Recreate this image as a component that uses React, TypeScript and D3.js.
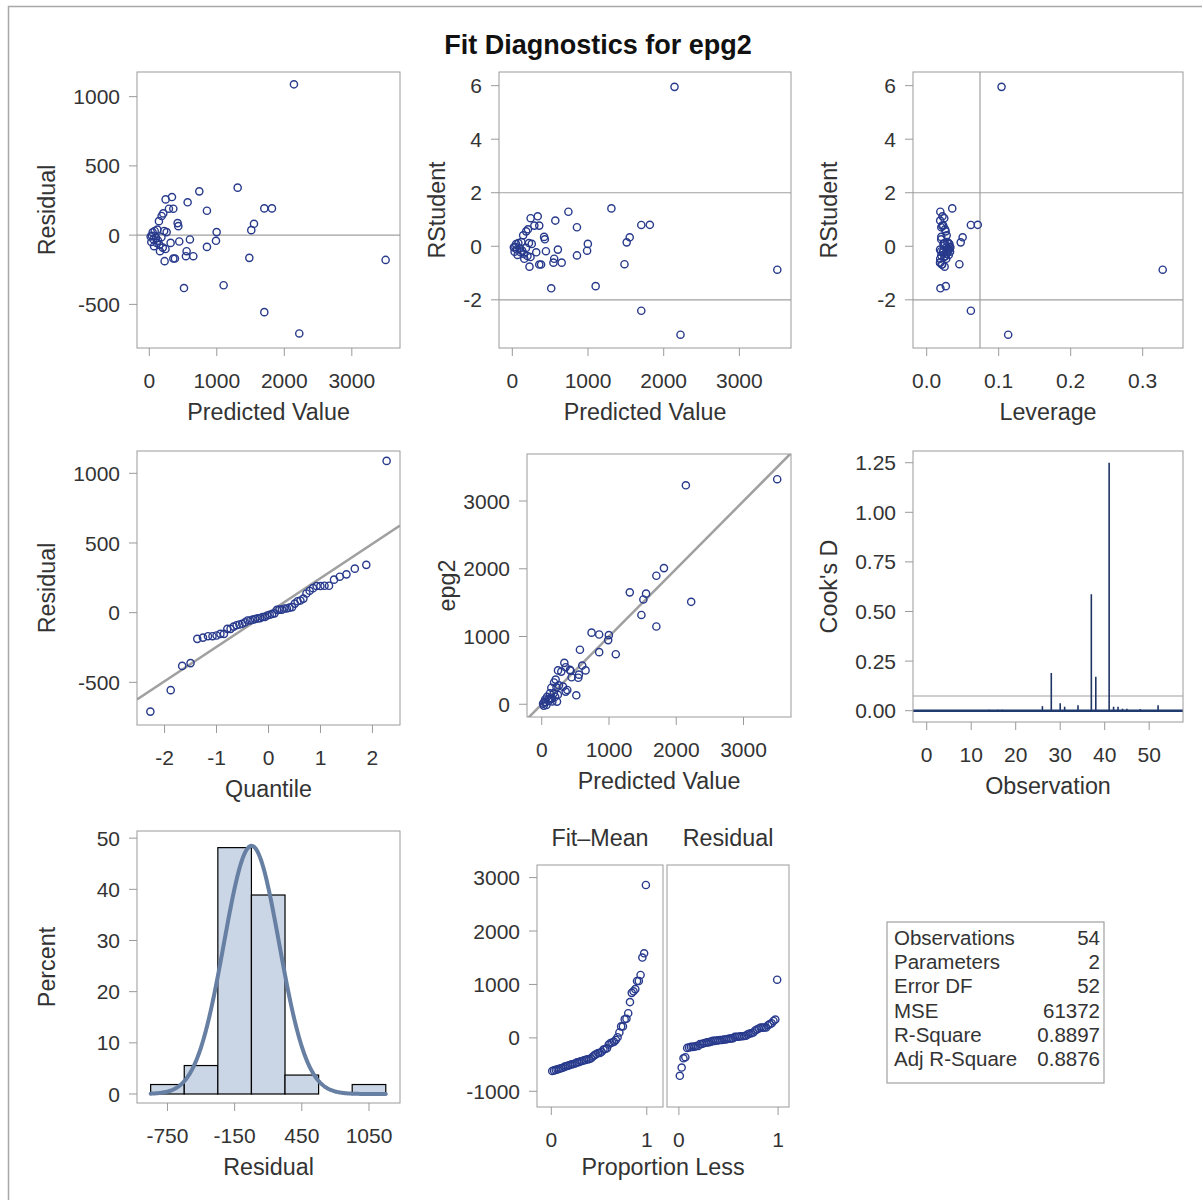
import React from "react";
import * as d3 from "d3";

// ---------- data ----------
const predicted = [2143,1309,741,3501,1704,1817,1551,1511,1482,1101,514,1704,2222,998,988,854,854,568,336,242,356,291,207,420,430,602,444,553,543,652,380,356,227,158,109,143,183,257,316,20,40,60,80,30,100,120,150,180,200,70,220,50,130,240];
const residual = [1089,343,316,-179,193,193,82,36,-164,-362,-382,-556,-710,22,-41,176,-85,237,275,258,191,191,157,87,65,-31,-46,-116,-152,-152,-169,-169,-188,-116,-56,101,138,22,-56,-10,-5,-30,30,-50,-20,40,-70,-15,-90,-80,30,20,-40,-100];
const cooksD = [0.001,0.001,0.001,0.001,0.001,0.001,0.001,0.001,0.001,0.001,0.001,0.001,0.001,0.005,0.001,0.005,0.005,0.001,0.001,0.001,0.001,0.001,0.001,0.001,0.001,0.023,0.002,0.19,0.003,0.037,0.02,0.002,0.003,0.028,0.002,0.002,0.587,0.171,0.003,0.002,1.25,0.02,0.02,0.01,0.01,0.003,0.002,0.008,0.002,0.001,0.002,0.027,0.002,0.001];
const histMid = [-750,-450,-150,150,450,750,1050];
const histPct = [1.85,5.56,48.15,38.89,3.7,0,1.85];
const statLabels = ["Observations","Parameters","Error DF","MSE","R-Square","Adj R-Square"];
const statValues = ["54","2","52","61372","0.8897","0.8876"];
const nParams = 2;

// ---------- derived diagnostics ----------
const n = predicted.length;
const meanF = d3.mean(predicted) as number;
const ssF = d3.sum(predicted, (f) => (f - meanF) ** 2);
const sse = d3.sum(residual, (r) => r * r);
const leverage = predicted.map((f) => 1 / n + (f - meanF) ** 2 / ssF);
const rstudent = residual.map((r, i) => {
  const h = leverage[i];
  const s2 = (sse - (r * r) / (1 - h)) / (n - nParams - 1);
  return r / (Math.sqrt(s2) * Math.sqrt(1 - h));
});
const observed = predicted.map((f, i) => f + residual[i]);
const meanObs = d3.mean(observed) as number;
const meanR = d3.mean(residual) as number;
const sdR = d3.deviation(residual) as number;

function invNorm(p: number): number {
  const a = [-39.69683028665376, 220.9460984245205, -275.9285104469687, 138.357751867269, -30.66479806614716, 2.506628277459239];
  const b = [-54.47609879822406, 161.5858368580409, -155.6989798598866, 66.80131188771972, -13.28068155288572];
  const c = [-0.007784894002430293, -0.3223964580411365, -2.400758277161838, -2.549732539343734, 4.374664141464968, 2.938163982698783];
  const dd = [0.007784695709041462, 0.3224671290700398, 2.445134137142996, 3.754408661907416];
  const pl = 0.02425;
  let q, r;
  if (p < pl) {
    q = Math.sqrt(-2 * Math.log(p));
    return (((((c[0] * q + c[1]) * q + c[2]) * q + c[3]) * q + c[4]) * q + c[5]) / ((((dd[0] * q + dd[1]) * q + dd[2]) * q + dd[3]) * q + 1);
  }
  if (p > 1 - pl) {
    q = Math.sqrt(-2 * Math.log(1 - p));
    return -(((((c[0] * q + c[1]) * q + c[2]) * q + c[3]) * q + c[4]) * q + c[5]) / ((((dd[0] * q + dd[1]) * q + dd[2]) * q + dd[3]) * q + 1);
  }
  q = p - 0.5;
  r = q * q;
  return ((((((a[0] * r + a[1]) * r + a[2]) * r + a[3]) * r + a[4]) * r + a[5]) * q) / (((((b[0] * r + b[1]) * r + b[2]) * r + b[3]) * r + b[4]) * r + 1);
}

const sortedR = [...residual].sort((a, b) => a - b);
const qq = sortedR.map((r, i) => ({ q: invNorm((i + 1 - 0.375) / (n + 0.25)), r }));
const fitMean = predicted.map((f) => f - meanObs).sort((a, b) => a - b);
const propLess = (i: number) => (i + 0.5) / n;

// ---------- style ----------
const FONT = "'Liberation Sans', Arial, Helvetica, sans-serif";
const TXT = "#333";
const FRAME = "#9a9a9a";
const MARK = "#283a8c";
const REF = "#a0a0a0";
const TICK_FS = 21;
const LAB_FS = 23.3;

type Box = { x0: number; x1: number; y0: number; y1: number };

function Frame({ b, xs, ys, xTicks, yTicks, xFmt, yFmt, xLabel, yLabel, yLabelX }: any) {
  const fx = xFmt || ((v: number) => String(v));
  const fy = yFmt || ((v: number) => String(v));
  return (
    <g fontFamily={FONT} fill={TXT}>
      <rect x={b.x0} y={b.y0} width={b.x1 - b.x0} height={b.y1 - b.y0} fill="none" stroke={FRAME} strokeWidth={1} />
      {xTicks &&
        xTicks.map((t: number) => (
          <g key={"x" + t}>
            <line x1={xs(t)} x2={xs(t)} y1={b.y1} y2={b.y1 + 8} stroke={FRAME} />
            <text x={xs(t)} y={b.y1 + 40} textAnchor="middle" fontSize={TICK_FS}>{fx(t)}</text>
          </g>
        ))}
      {yTicks &&
        yTicks.map((t: number) => (
          <g key={"y" + t}>
            <line x1={b.x0 - 8} x2={b.x0} y1={ys(t)} y2={ys(t)} stroke={FRAME} />
            <text x={b.x0 - 17} y={ys(t)} dy="0.36em" textAnchor="end" fontSize={TICK_FS}>{fy(t)}</text>
          </g>
        ))}
      {xLabel && (
        <text x={(b.x0 + b.x1) / 2} y={b.y1 + 72} textAnchor="middle" fontSize={LAB_FS}>{xLabel}</text>
      )}
      {yLabel && (
        <text transform={`translate(${yLabelX},${(b.y0 + b.y1) / 2}) rotate(-90)`} dy="0.36em" textAnchor="middle" fontSize={LAB_FS}>{yLabel}</text>
      )}
    </g>
  );
}

function scales(b: Box, xd: number[], yd: number[]) {
  return {
    xs: d3.scaleLinear().domain(xd).range([b.x0, b.x1]),
    ys: d3.scaleLinear().domain(yd).range([b.y1, b.y0]),
  };
}

function Circles({ pts, xs, ys }: any) {
  return (
    <g>
      {pts.map((p: number[], i: number) => (
        <circle key={i} cx={xs(p[0])} cy={ys(p[1])} r={3.6} fill="none" stroke={MARK} strokeWidth={1.4} />
      ))}
    </g>
  );
}

export default function App() {
  const b1: Box = { x0: 137, x1: 400, y0: 72, y1: 348 };
  const s1 = scales(b1, [-182, 3714], [-815, 1178]);
  const b2: Box = { x0: 499, x1: 791, y0: 72, y1: 348 };
  const s2 = scales(b2, [-176, 3682], [-3.8, 6.51]);
  const b3: Box = { x0: 913, x1: 1183, y0: 72, y1: 348 };
  const s3 = scales(b3, [-0.019, 0.356], [-3.8, 6.51]);
  const b4: Box = { x0: 137, x1: 400, y0: 451, y1: 725 };
  const s4 = scales(b4, [-2.53, 2.53], [-806, 1160]);
  const b5: Box = { x0: 527, x1: 791, y0: 454, y1: 717 };
  const s5 = scales(b5, [-219, 3706], [-188, 3694]);
  const b6: Box = { x0: 913, x1: 1183, y0: 451, y1: 722 };
  const s6 = scales(b6, [-3.08, 57.6], [-0.057, 1.309]);
  const b7: Box = { x0: 137, x1: 400, y0: 831, y1: 1103 };
  const s7 = scales(b7, [-1022, 1327], [-1.76, 51.4]);
  const b8a: Box = { x0: 537, x1: 663, y0: 865, y1: 1107 };
  const s8a = scales(b8a, [-0.15, 1.17], [-1294, 3236]);
  const b8b: Box = { x0: 667, x1: 789, y0: 865, y1: 1107 };
  const s8b = scales(b8b, [-0.12, 1.11], [-1294, 3236]);

  const levCut = (2 * nParams) / n;
  const cookCut = 4 / n;
  const binW = histMid[1] - histMid[0];
  const lo = histMid[0] - binW / 2;
  const hi = histMid[histMid.length - 1] + binW / 2;
  const curveX = d3.range(lo, hi + 1, 6);
  const curve = d3
    .line<number>()
    .x((v) => s7.xs(v))
    .y((v) => s7.ys((100 * binW * Math.exp(-0.5 * ((v - meanR) / sdR) ** 2)) / (sdR * Math.sqrt(2 * Math.PI))))(curveX);

  const qqLine = [-2.53, 2.53];

  return (
    <svg width={1202} height={1200} style={{ position: "absolute", left: 0, top: 0, background: "#fff" }}>
      <defs>
        {[b4, b5, b7].map((b, i) => (
          <clipPath id={"clip" + i} key={i}>
            <rect x={b.x0} y={b.y0} width={b.x1 - b.x0} height={b.y1 - b.y0} />
          </clipPath>
        ))}
      </defs>
      <rect x={0} y={0} width={1202} height={1200} fill="#fff" />
      <rect x={8.5} y={6.5} width={1300} height={1300} fill="none" stroke="#a8a8a8" strokeWidth={1.5} />
      <text x={598} y={54} textAnchor="middle" fontFamily={FONT} fontWeight="bold" fontSize={27} fill="#111">
        Fit Diagnostics for epg2
      </text>

      {/* Panel 1: Residual vs Predicted */}
      <line x1={b1.x0} x2={b1.x1} y1={s1.ys(0)} y2={s1.ys(0)} stroke={REF} strokeWidth={1.2} />
      <Circles pts={predicted.map((f, i) => [f, residual[i]])} xs={s1.xs} ys={s1.ys} />
      <Frame b={b1} xs={s1.xs} ys={s1.ys} xTicks={[0, 1000, 2000, 3000]} yTicks={[-500, 0, 500, 1000]} xLabel="Predicted Value" yLabel="Residual" yLabelX={47} />

      {/* Panel 2: RStudent vs Predicted */}
      {[-2, 2].map((v) => (
        <line key={v} x1={b2.x0} x2={b2.x1} y1={s2.ys(v)} y2={s2.ys(v)} stroke={REF} strokeWidth={1.2} />
      ))}
      <Circles pts={predicted.map((f, i) => [f, rstudent[i]])} xs={s2.xs} ys={s2.ys} />
      <Frame b={b2} xs={s2.xs} ys={s2.ys} xTicks={[0, 1000, 2000, 3000]} yTicks={[-2, 0, 2, 4, 6]} xLabel="Predicted Value" yLabel="RStudent" yLabelX={437} />

      {/* Panel 3: RStudent vs Leverage */}
      {[-2, 2].map((v) => (
        <line key={v} x1={b3.x0} x2={b3.x1} y1={s3.ys(v)} y2={s3.ys(v)} stroke={REF} strokeWidth={1.2} />
      ))}
      <line x1={s3.xs(levCut)} x2={s3.xs(levCut)} y1={b3.y0} y2={b3.y1} stroke={REF} strokeWidth={1.2} />
      <Circles pts={leverage.map((h, i) => [h, rstudent[i]])} xs={s3.xs} ys={s3.ys} />
      <Frame b={b3} xs={s3.xs} ys={s3.ys} xTicks={[0, 0.1, 0.2, 0.3]} xFmt={(v: number) => v.toFixed(1)} yTicks={[-2, 0, 2, 4, 6]} xLabel="Leverage" yLabel="RStudent" yLabelX={829} />

      {/* Panel 4: Q-Q */}
      <g clipPath="url(#clip0)">
        <line x1={s4.xs(qqLine[0])} x2={s4.xs(qqLine[1])} y1={s4.ys(meanR + sdR * qqLine[0])} y2={s4.ys(meanR + sdR * qqLine[1])} stroke={REF} strokeWidth={2.5} />
      </g>
      <Circles pts={qq.map((d) => [d.q, d.r])} xs={s4.xs} ys={s4.ys} />
      <Frame b={b4} xs={s4.xs} ys={s4.ys} xTicks={[-2, -1, 0, 1, 2]} yTicks={[-500, 0, 500, 1000]} xLabel="Quantile" yLabel="Residual" yLabelX={47} />

      {/* Panel 5: Observed vs Predicted */}
      <g clipPath="url(#clip1)">
        <line x1={s5.xs(-300)} x2={s5.xs(3800)} y1={s5.ys(-300)} y2={s5.ys(3800)} stroke={REF} strokeWidth={2.5} />
      </g>
      <Circles pts={predicted.map((f, i) => [f, observed[i]])} xs={s5.xs} ys={s5.ys} />
      <Frame b={b5} xs={s5.xs} ys={s5.ys} xTicks={[0, 1000, 2000, 3000]} yTicks={[0, 1000, 2000, 3000]} xLabel="Predicted Value" yLabel="epg2" yLabelX={447} />

      {/* Panel 6: Cook's D */}
      <line x1={b6.x0} x2={b6.x1} y1={s6.ys(cookCut)} y2={s6.ys(cookCut)} stroke={REF} strokeWidth={1.2} />
      {cooksD.map((v, i) => (
        <line key={i} x1={s6.xs(i + 1)} x2={s6.xs(i + 1)} y1={s6.ys(0)} y2={s6.ys(v)} stroke="#1f3563" strokeWidth={1.6} />
      ))}
      <line x1={b6.x0} x2={b6.x1} y1={s6.ys(0)} y2={s6.ys(0)} stroke="#1f3a6e" strokeWidth={2.6} />
      <Frame b={b6} xs={s6.xs} ys={s6.ys} xTicks={[0, 10, 20, 30, 40, 50]} yTicks={[0, 0.25, 0.5, 0.75, 1.0, 1.25]} yFmt={(v: number) => v.toFixed(2)} xLabel="Observation" yLabel="Cook's D" yLabelX={829} />

      {/* Panel 7: Histogram */}
      {histMid.map((m, i) =>
        histPct[i] > 0 ? (
          <rect key={i} x={s7.xs(m - binW / 2)} y={s7.ys(histPct[i])} width={s7.xs(m + binW / 2) - s7.xs(m - binW / 2)} height={s7.ys(0) - s7.ys(histPct[i])} fill="#cad5e5" stroke="#000" strokeWidth={1.2} />
        ) : null
      )}
      <g clipPath="url(#clip2)">
        <path d={curve || ""} fill="none" stroke="#667fa2" strokeWidth={4} strokeLinecap="round" />
      </g>
      <Frame b={b7} xs={s7.xs} ys={s7.ys} xTicks={[-750, -150, 450, 1050]} yTicks={[0, 10, 20, 30, 40, 50]} xLabel="Residual" yLabel="Percent" yLabelX={47} />

      {/* Panel 8: Residual-Fit spread */}
      <Circles pts={fitMean.map((v, i) => [propLess(i), v])} xs={s8a.xs} ys={s8a.ys} />
      <Circles pts={sortedR.map((v, i) => [propLess(i), v])} xs={s8b.xs} ys={s8b.ys} />
      <Frame b={b8a} xs={s8a.xs} ys={s8a.ys} xTicks={[0, 1]} yTicks={[-1000, 0, 1000, 2000, 3000]} />
      <Frame b={b8b} xs={s8b.xs} ys={s8b.ys} xTicks={[0, 1]} />
      <g fontFamily={FONT} fill={TXT} fontSize={LAB_FS} textAnchor="middle">
        <text x={(b8a.x0 + b8a.x1) / 2} y={846}>Fit–Mean</text>
        <text x={(b8b.x0 + b8b.x1) / 2} y={846}>Residual</text>
        <text x={(b8a.x0 + b8b.x1) / 2} y={b8a.y1 + 68}>Proportion Less</text>
      </g>

      {/* Stats table */}
      <rect x={887} y={922} width={217} height={161} fill="none" stroke="#a0a0a0" strokeWidth={1.2} />
      <g fontFamily={FONT} fill={TXT} fontSize={20.5}>
        {statLabels.map((l, i) => (
          <g key={l}>
            <text x={894} y={945 + i * 24.2}>{l}</text>
            <text x={1100} y={945 + i * 24.2} textAnchor="end">{statValues[i]}</text>
          </g>
        ))}
      </g>
    </svg>
  );
}
